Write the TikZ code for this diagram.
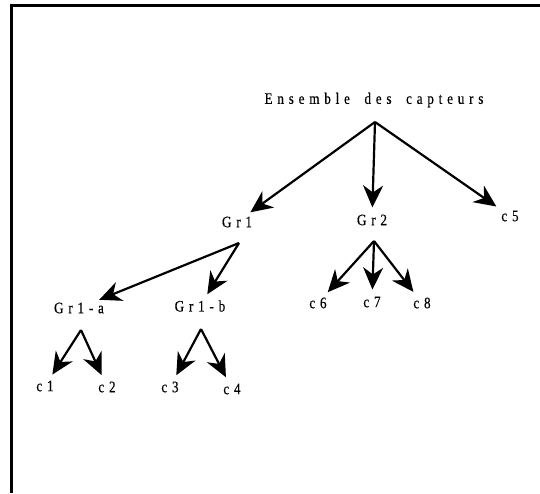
\documentclass[tikz,border=0pt]{standalone}
\usepackage{fontspec}
\newfontfamily\capfont{Liberation Serif}[FakeStretch=0.82, LetterSpace=30, WordSpace=1.8, FakeBold=0.4]
\usepackage{tikz}
\usetikzlibrary{arrows.meta}
\usetikzlibrary{positioning}

\begin{document}
\begin{tikzpicture}

\tikzstyle{capteur}=[font=\capfont\fontsize{16}{18}\selectfont, inner sep=0pt, on grid]
\tikzstyle{line}=[draw, line width=2.2pt, -{Stealth[length=22pt, width=20pt, inset=7pt]}, shorten >=7pt]
\tikzstyle{frame}=[draw, line width=3pt]

\useasboundingbox (0pt,0pt) rectangle (540pt,-493pt);
\path[frame] (11pt,-493pt) -- (11pt,-5pt) -- (540pt,-5pt);

\node[capteur] (ensemble) at (374pt,-100pt) {Ensemble des capteurs};

\node[capteur, below left=122pt and 137pt of ensemble] (gr1) {Gr1};
\node[capteur, below left=120pt and 2pt of ensemble] (gr2) {Gr2};
\node[capteur, below right=116pt and 136pt of ensemble] (c5) {c5};

\node[capteur, below left=86pt and 158pt of gr1] (gr1_a) {Gr1-a};
\node[capteur, below left=84pt and 37pt of gr1] (gr1_b) {Gr1-b};

\node[capteur, below left=83pt and 54pt of gr2] (c6) {c6};
\node[capteur, below=82pt of gr2] (c7) {c7};
\node[capteur, below right=83pt and 50pt of gr2] (c8) {c8};

\node[capteur, below left=78pt and 34pt of gr1_a] (c1) {c1};
\node[capteur, below right=79pt and 28pt of gr1_a] (c2) {c2};
\node[capteur, below left=81pt and 30pt of gr1_b] (c3) {c3};
\node[capteur, below right=83pt and 32pt of gr1_b] (c4) {c4};

% points where the arrows leave
\coordinate[on grid, below=22pt of ensemble, xshift=1pt] (ensemble_fork);
\coordinate[on grid, below=21pt of gr1, xshift=2pt] (gr1_fork);
\coordinate[on grid, below=21pt of gr2, xshift=2pt] (gr2_fork);
\coordinate[on grid, below=22pt of gr1_a, xshift=2pt] (gr1_a_fork);
\coordinate[on grid, below=23pt of gr1_b, xshift=1pt] (gr1_b_fork);

\path[line] (ensemble_fork) -- (gr1);
\path[line] (ensemble_fork) -- (gr2);
\path[line] (ensemble_fork) -- (c5);

\path[line] (gr1_fork) -- (gr1_a);
\path[line] (gr1_fork) -- (gr1_b);

\path[line] (gr2_fork) -- (c6);
\path[line] (gr2_fork) -- (c7);
\path[line] (gr2_fork) -- (c8);

\path[line] (gr1_a_fork) -- (c1);
\path[line] (gr1_a_fork) -- (c2);
\path[line] (gr1_b_fork) -- (c3);
\path[line] (gr1_b_fork) -- (c4);

\end{tikzpicture}
\end{document}
